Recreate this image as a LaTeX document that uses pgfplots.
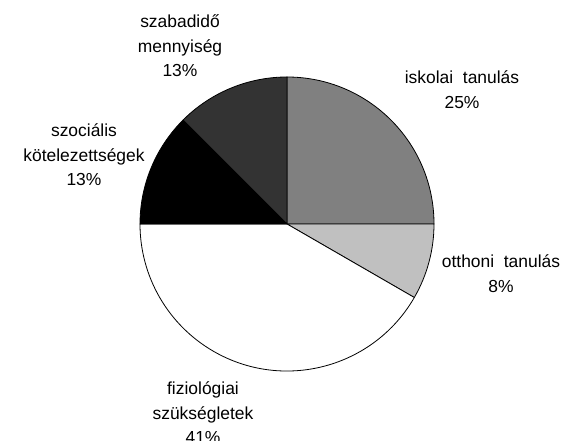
\documentclass[border=0pt]{standalone}
\usepackage{pgfplots}
\pgfplotsset{compat=1.18}
\usepackage{pgfplotstable}
\usepackage{fontspec}
\setmainfont{Liberation Sans}
\definecolor{cIsk}{RGB}{128,128,128}
\definecolor{cOtt}{RGB}{192,192,192}
\definecolor{cFiz}{RGB}{255,255,255}
\definecolor{cSzo}{RGB}{0,0,0}
\definecolor{cSza}{RGB}{51,51,51}
% share of a day (hours out of 24)
\pgfplotstableread{
name value col
iskolai 6 cIsk
otthoni 2 cOtt
fiziologiai 10 cFiz
szocialis 3 cSzo
szabadido 3 cSza
}\piedata
\begin{document}
\begin{tikzpicture}
\begin{axis}[
  x=1bp, y=1bp,
  xmin=0, xmax=564, ymin=0, ymax=441,
  axis lines=none, scale only axis, clip=false,
  nodes={font=\fontsize{17.5}{24.5}\selectfont, align=center, inner sep=0pt},
]
\pgfplotsextra{
  \xdef\acc{90}
  \foreach \i in {0,...,4} {
    \pgfplotstablegetelem{\i}{value}\of\piedata \let\v\pgfplotsretval
    \pgfplotstablegetelem{\i}{col}\of\piedata \let\c\pgfplotsretval
    \pgfmathsetmacro{\st}{\acc}
    \pgfmathsetmacro{\en}{\acc-360*\v/24}
    \filldraw[fill=\c, draw=black, line width=0.8bp, line join=round]
      (axis cs:287,217) -- ++(\st:147bp) arc[start angle=\st, end angle=\en, radius=147bp] -- cycle;
    \xdef\acc{\en}
  }
}
\node at (axis cs:180,395) {szabadidő\\mennyiség\\13\%};
\node at (axis cs:84,286) {szociális\\kötelezettségek\\13\%};
\node at (axis cs:462,351.5) {iskolai\ \ tanulás\\25\%};
\node at (axis cs:501,167.5) {otthoni\ \ tanulás\\8\%};
\node at (axis cs:203,28) {fiziológiai\\szükségletek\\41\%};
\end{axis}
\pgfresetboundingbox
\clip (current axis.south west) rectangle (current axis.north east);
\useasboundingbox (current axis.south west) rectangle (current axis.north east);
\end{tikzpicture}
\end{document}
